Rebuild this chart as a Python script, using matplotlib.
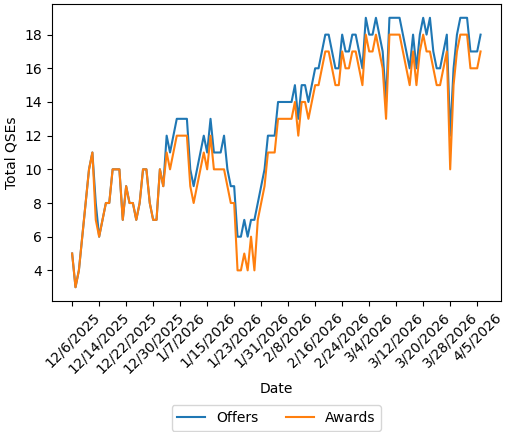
import pandas as pd
import matplotlib
matplotlib.use("Agg")
import matplotlib.pyplot as plt

# daily counts, 12/6/2025 .. 4/6/2026
dates = pd.date_range("2025-12-06", periods=122, freq="D")

offers = [
    5, 3, 4, 6, 8, 10, 11, 8, 6, 7, 8, 8, 10, 10, 10, 7, 9, 8, 8, 7, 8, 10, 10, 8, 7, 7, 10, 9,
    12, 11, 12, 13, 13, 13, 13,
    10, 9, 10, 11, 12, 11, 13,
    11, 11, 11, 12, 10, 9, 9,
    6, 6, 7, 6, 7, 7, 8, 9,
    10, 12, 12, 12,
    14, 14, 14, 14, 14,
    15, 13, 15, 15, 14, 15, 16, 16, 17, 18, 18, 17, 16, 16,
    18, 17, 17, 18, 18, 17, 16, 19, 18, 18, 19, 18, 17, 14,
    19, 19, 19, 19, 18, 17, 16, 18, 16, 18, 19, 18, 19, 17,
    16, 16, 17, 18, 12, 16, 18, 19, 19, 19, 17, 17, 17, 18,
]
awards = [
    5, 3, 4, 6, 8, 10, 11, 7, 6, 7, 8, 8, 10, 10, 10, 7, 9, 8, 8, 7, 8, 10, 10, 8, 7, 7, 10, 9,
    11, 10, 11, 12, 12, 12, 12,
    9, 8, 9, 10, 11, 10, 12,
    10, 10, 10, 10, 9, 8, 8,
    4, 4, 5, 4, 6, 4, 7, 8,
    9, 11, 11, 11,
    13, 13, 13, 13, 13,
    14, 12, 14, 14, 13, 14, 15, 15, 16, 17, 17, 16, 15, 15,
    17, 16, 16, 17, 17, 16, 15, 18, 17, 17, 18, 17, 16, 13,
    18, 18, 18, 18, 17, 16, 15, 17, 15, 17, 18, 17, 17, 16,
    15, 15, 16, 17, 10, 15, 17, 18, 18, 18, 16, 16, 16, 17,
]

tick_dates = dates[::8]
tick_labels = [f"{d.month}/{d.day}/{d.year}" for d in tick_dates]

fig = plt.figure(figsize=(5.12, 4.32), dpi=100)
ax = fig.add_axes([0.101, 0.304, 0.8775, 0.686])

ax.plot(dates, offers, label="Offers")
ax.plot(dates, awards, label="Awards")

ax.set_xticks(tick_dates)
ax.set_xticklabels(tick_labels, rotation=45)
ax.set_xlabel("Date")
ax.set_ylabel("Total QSEs")

ax.legend(loc="upper center", bbox_to_anchor=(0.5, -0.33), ncol=2)

fig.savefig("out.png", dpi=100)
